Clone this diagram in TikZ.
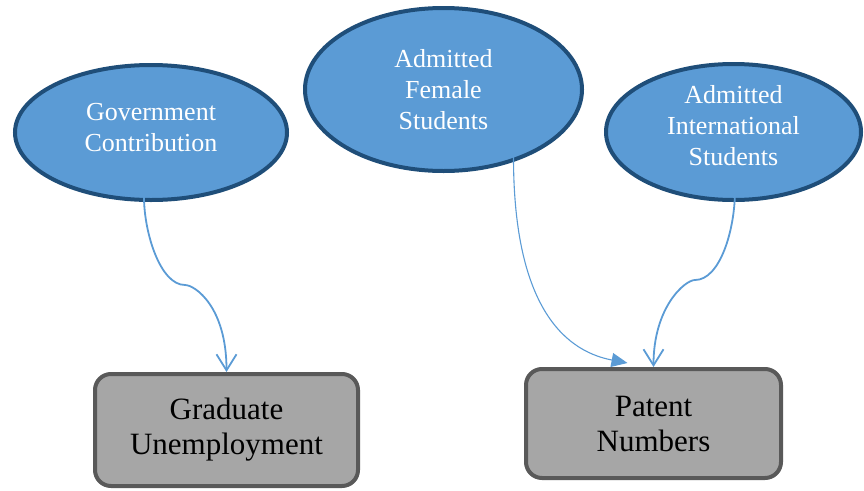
\documentclass[tikz,border=0pt]{standalone}
\usepackage{fontspec}
\setmainfont{Liberation Serif}
\usetikzlibrary{shapes.geometric,arrows.meta}
\definecolor{bubblefill}{HTML}{5B9BD5}
\definecolor{bubbleline}{HTML}{1F4E79}
\definecolor{boxfill}{HTML}{A6A6A6}
\definecolor{boxline}{HTML}{595959}
\begin{document}
\begin{tikzpicture}[x=1pt,y=-1pt,
  bubble/.style={ellipse, draw=bubbleline, fill=bubblefill, line width=4pt, inner sep=0pt},
  bubbletext/.style={text=white, font=\fontsize{26}{31}\selectfont, align=center},
  outcome/.style={rectangle, rounded corners=16pt, draw=boxline, fill=boxfill,
    line width=4pt, inner sep=0pt, font=\fontsize{31}{35}\selectfont, align=center},
  link/.style={draw=bubblefill, line width=1.8pt},
  openhead/.style={-{Straight Barb[length=16pt,width=20pt]}},
  solidhead/.style={-{Triangle[length=16pt,width=14pt]}}
]
\useasboundingbox (0,0) rectangle (864,490);

% causes
\node[bubble, minimum width=272pt, minimum height=135pt,
  label={[bubbletext,yshift=5pt]center:{Government\\Contribution}}] (gov) at (151,132.5) {};
\node[bubble, minimum width=277pt, minimum height=163pt,
  label={[bubbletext]center:{Admitted\\Female\\Students}}] (fem) at (443.5,89.5) {};
\node[bubble, minimum width=255pt, minimum height=136pt,
  label={[bubbletext,yshift=6pt]center:{Admitted\\International\\Students}}] (intl) at (733.5,132) {};

% outcomes
\node[outcome, minimum width=263pt, minimum height=112pt] (gu) at (226.5,430) {Graduate\\Unemployment};
\node[outcome, minimum width=255pt, minimum height=109pt] (pn) at (653.5,423.5) {Patent\\Numbers};

% bends of the curved connectors
\coordinate (bend1) at (185,285);
\coordinate (bend3) at (695,280);
\coordinate (pnside) at ([xshift=-26pt,yshift=4pt]pn.north);

% connectors
\draw[link, openhead] ([xshift=-7pt,yshift=5pt]gov.south)
  .. controls +(0,35) and +(-25,0) .. (bend1)
  .. controls +(10,0) and +(0,-65) .. (gu.north);
\draw[link, line width=1.1pt, solidhead] ([xshift=70pt,yshift=16pt]fem.south)
  .. controls +(0,142) and +(-68,-13) .. (pnside);
\draw[link, openhead] ([xshift=1.5pt,yshift=12pt]intl.south)
  .. controls +(0,40) and +(25,0) .. (bend3)
  .. controls +(-10,0) and +(0,-60) .. (pn.north);
\end{tikzpicture}
\end{document}
